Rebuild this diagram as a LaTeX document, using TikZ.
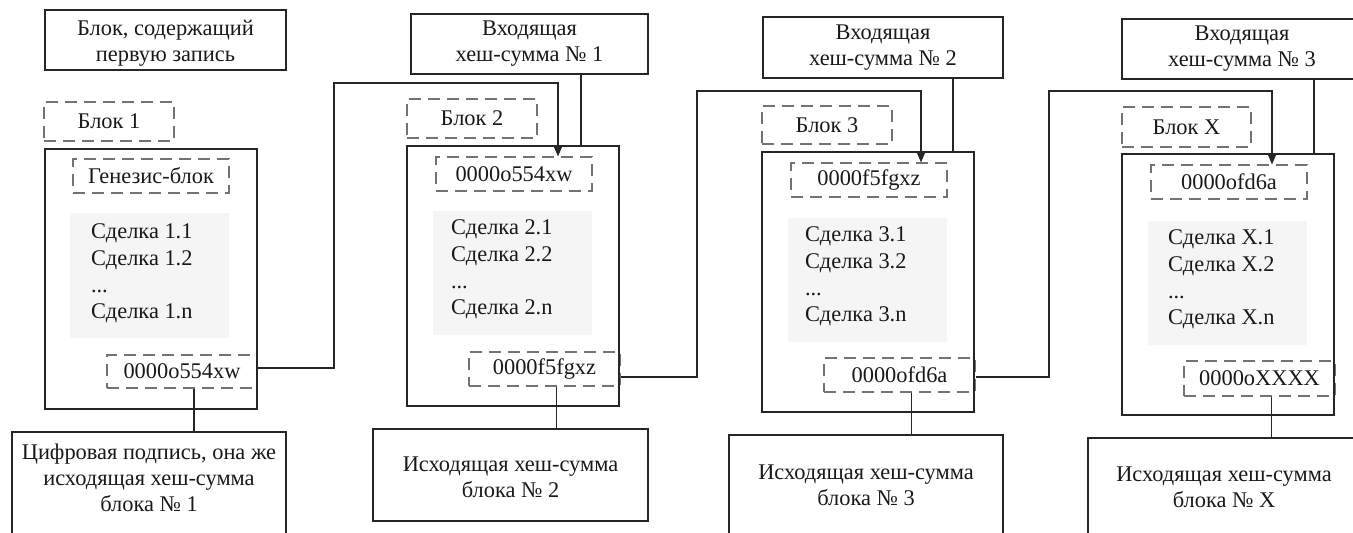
\documentclass[tikz,border=0pt]{standalone}
\usepackage{fontspec}
\setmainfont{Liberation Serif}
\usetikzlibrary{arrows.meta}
\newcommand\mkbox[7]{\node[#1, minimum width={#4-#2}, minimum height={#5-#3}] (#6) at ({(#2+#4)/2},{(#3+#5)/2}) {#7};}
\begin{document}
\begin{tikzpicture}[x=1pt,y=-1pt,
  font=\fontsize{22.4}{26}\selectfont,
  sbox/.style={draw=black!85, line width=1.2pt, inner sep=0pt, align=center, text=black!90},
  dbox/.style={draw=black!55, line width=1.1pt, dash pattern=on 12pt off 7pt, inner sep=0pt, text=black!90},
  gbox/.style={fill=black!4, draw=none, inner sep=0pt},
  txt/.style={inner sep=0pt, align=center, text=black!90},
  tlist/.style={inner sep=0pt, align=left, anchor=north west, text=black!90, font=\fontsize{22.4}{26.7}\selectfont},
  conn/.style={draw=black!85, line width=1.2pt},
  arr/.style={conn, -{Triangle[length=11pt,width=9pt]}}]
\useasboundingbox (0,0) rectangle (1353,533);
\clip (0,0) rectangle (1353,533);

% ---------- Block 1 ----------
\mkbox{sbox}{45}{10}{286}{70}{lbl1}{\rule{0pt}{22pt}Блок, содержащий\\первую запись}
\mkbox{dbox}{44}{102}{174}{141}{nm1}{Блок 1\hspace{15pt}}
\mkbox{dbox}{73}{159}{229}{193}{hin1}{Генезис-блок\hspace{6pt}}
\mkbox{gbox}{70}{213}{229}{338}{g1}{}
\node[tlist] (t1) at ([xshift=21pt,yshift=-11pt]g1.north west) {Сделка 1.1\\Сделка 1.2\\...\\Сделка 1.n};
\mkbox{dbox}{107}{355}{257}{388}{hout1}{0000o554xw\hspace{4pt}}
\mkbox{sbox}{45}{149}{257}{409}{blk1}{}
\mkbox{sbox}{12}{432}{286}{560}{out1}{}
\node[txt, anchor=north] (out1t) at ([yshift=-12pt]out1.north) {Цифровая подпись, она же\\исходящая хеш-сумма\\блока № 1};

% ---------- Block 2 ----------
\mkbox{sbox}{411}{14}{648}{74}{in2}{Входящая\\хеш-сумма № 1}
\mkbox{dbox}{407}{99}{537}{138}{nm2}{Блок 2\hspace{16pt}}
\mkbox{dbox}{436}{157}{592}{191}{hin2}{0000o554xw\hspace{15pt}}
\mkbox{gbox}{433}{211}{592}{335}{g2}{}
\node[tlist] (t2) at ([xshift=18pt,yshift=-9pt]g2.north west) {Сделка 2.1\\Сделка 2.2\\...\\Сделка 2.n};
\mkbox{dbox}{469}{352}{620}{386}{hout2}{0000f5fgxz\hspace{19pt}}
\mkbox{sbox}{407}{146}{619}{406}{blk2}{}
\mkbox{sbox}{373}{429}{648}{521}{out2}{}
\node[txt, anchor=north] (out2t) at ([yshift=-28pt]out2.north) {Исходящая хеш-сумма\\блока № 2};

% ---------- Block 3 ----------
\mkbox{sbox}{763}{17}{1003}{78}{in3}{Входящая\\хеш-сумма № 2}
\mkbox{dbox}{762}{106}{892}{144}{nm3}{Блок 3\hspace{16pt}}
\mkbox{dbox}{791}{163}{947}{197}{hin3}{0000f5fgxz\hspace{28pt}}
\mkbox{gbox}{788}{218}{947}{342}{g3}{}
\node[tlist] (t3) at ([xshift=17pt,yshift=-9pt]g3.north west) {Сделка 3.1\\Сделка 3.2\\...\\Сделка 3.n};
\mkbox{dbox}{824}{358}{975}{392}{hout3}{0000ofd6a\hspace{28pt}}
\mkbox{sbox}{762}{152}{974}{412}{blk3}{}
\mkbox{sbox}{729}{435}{1003}{560}{out3}{}
\node[txt, anchor=north] (out3t) at ([yshift=-30pt]out3.north) {Исходящая хеш-сумма\\блока № 3};

% ---------- Block X ----------
\mkbox{sbox}{1122}{19}{1362}{79}{inX}{Входящая\\хеш-сумма № 3}
\mkbox{dbox}{1122}{107}{1251}{147}{nmX}{Блок X\hspace{16pt}}
\mkbox{dbox}{1151}{165}{1307}{199}{hinX}{0000ofd6a\hspace{36pt}}
\mkbox{gbox}{1148}{221}{1307}{345}{gX}{}
\node[tlist] (tX) at ([xshift=20pt,yshift=-9pt]gX.north west) {Сделка X.1\\Сделка X.2\\...\\Сделка X.n};
\mkbox{dbox}{1184}{361}{1335}{396}{houtX}{0000oXXXX\hspace{3pt}}
\mkbox{sbox}{1122}{154}{1334}{415}{blkX}{}
\mkbox{sbox}{1088}{438}{1360}{560}{outX}{}
\node[txt, anchor=north] (outXt) at ([yshift=-29pt]outX.north) {Исходящая хеш-сумма\\блока № X};

% ---------- connectors: incoming hash boxes ----------
\coordinate (u2) at ([xshift=51.5pt]in2.south);
\coordinate (u3) at ([xshift=70pt]in3.south);
\coordinate (uX) at ([xshift=72pt]inX.south);
\draw[conn] (u2) -- (u2 |- blk2.north);
\draw[conn] (u3) -- (u3 |- blk3.north);
\draw[conn] (uX) -- (uX |- blkX.north);

% ---------- connectors: outgoing hash to label ----------
\coordinate (d1) at ([xshift=12pt]hout1.south);
\coordinate (d2) at ([xshift=12pt]hout2.south);
\coordinate (d3) at ([xshift=12pt]hout3.south);
\coordinate (dX) at ([xshift=12pt]houtX.south);
\draw[conn] (d1) -- (d1 |- out1.north);
\draw[conn] (d2) -- (d2 |- out2.north);
\draw[conn] (d3) -- (d3 |- out3.north);
\draw[conn] (dX) -- (dX |- outX.north);

% ---------- connectors: chain arrows ----------
\coordinate (k1) at (334,83);
\coordinate (k2) at (697,91);
\coordinate (k3) at (1049,91);
\draw[arr] ([yshift=3.5pt]hout1.east) -| (k1) -| ([xshift=44pt]hin2.north);
\draw[arr] ([yshift=-8pt]hout2.east) -| (k2) -| ([xshift=52pt]hin3.north);
\draw[arr] ([yshift=-2pt]hout3.east) -| (k3) -| ([xshift=43pt]hinX.north);
\end{tikzpicture}
\end{document}
